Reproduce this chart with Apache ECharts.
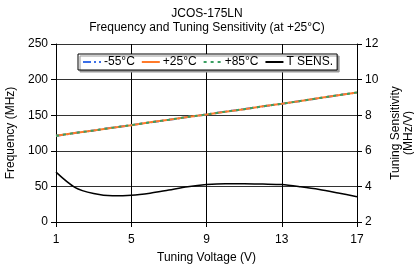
<!DOCTYPE html>
<html><head><meta charset="utf-8">
<script src="https://cdn.jsdelivr.net/npm/echarts@6/dist/echarts.min.js"></script>
<style>html,body{margin:0;padding:0;background:#fff}#c{width:414px;height:273px}</style>
</head><body><div id="c"></div>
<script>
const voltages = [1,2,3,4,5,6,7,8,9,10,11,12,13,14,15,16,17];
const freqM55 = [121,125,128.5,132.5,136,140,143.5,147.5,151,155,158.5,162.5,166,170,174,178,182];
const freq25  = [121,125,128.5,132.5,136,140,143.5,147.5,151,155,158.5,162.5,166,170,174,178,182];
const freq85  = [121,125,128.5,132.5,136,140,143.5,147.5,151,155,158.5,162.5,166,170,174,178,182];
const tSens   = [4.8,3.95,3.6,3.47,3.5,3.62,3.8,3.98,4.1,4.15,4.15,4.13,4.1,3.98,3.83,3.63,3.42];

const font = 'Liberation Sans';
const chart = echarts.init(document.getElementById('c'), null, {renderer:'canvas'});
chart.setOption({
  animation:false,
  backgroundColor:'#fff',
  textStyle:{fontFamily:font},
  title:{text:'JCOS-175LN\nFrequency and Tuning Sensitivity (at +25°C)', left:'center', top:2,
    textStyle:{fontFamily:font,fontSize:12,fontWeight:'normal',color:'#000',lineHeight:14}},
  legend:{top:54, left:78, itemGap:6, itemWidth:18, itemHeight:10, padding:[2,4,2,4],
    backgroundColor:'#fff', borderColor:'#000', borderWidth:1,
    shadowColor:'#999', shadowOffsetX:2, shadowOffsetY:2, shadowBlur:0,
    itemStyle:{opacity:0},
    textStyle:{fontFamily:font,fontSize:12,color:'#000',padding:[0,0,0,-2]},
    data:['-55°C','+25°C','+85°C','T SENS.']},
  grid:{left:56, right:57, top:44, bottom:51, containLabel:false, outerBoundsMode:'none'},
  xAxis:{type:'category', data:voltages, boundaryGap:false,
    name:'Tuning Voltage (V)', nameLocation:'middle', nameGap:30,
    nameTextStyle:{fontFamily:font,fontSize:12,color:'#000'},
    axisLine:{lineStyle:{color:'#000'}},
    axisTick:{interval:3, length:5, lineStyle:{color:'#000'}},
    axisLabel:{interval:3, color:'#000', fontFamily:font, fontSize:12, margin:12},
    splitLine:{show:true, interval:3, lineStyle:{color:'#000'}}},
  yAxis:[
    {type:'value', min:0, max:250, interval:50,
     name:'Frequency (MHz)', nameLocation:'middle', nameGap:31, nameRotate:90,
     nameTextStyle:{fontFamily:font,fontSize:12,color:'#000'},
     axisLine:{show:true,lineStyle:{color:'#000'}},
     axisTick:{show:true,length:5,lineStyle:{color:'#000'}},
     axisLabel:{color:'#000',fontFamily:font,fontSize:12,margin:8},
     splitLine:{show:true,lineStyle:{color:'#333'}}},
    {type:'value', min:2, max:12, interval:2, position:'right',
     name:'Tuning Sensitivity\n(MHz/V)', nameLocation:'middle', nameGap:27, nameRotate:90,
     nameTextStyle:{fontFamily:font,fontSize:12,color:'#000',lineHeight:13},
     axisLine:{show:true,lineStyle:{color:'#000'}},
     axisTick:{show:true,length:5,lineStyle:{color:'#000'}},
     axisLabel:{color:'#000',fontFamily:font,fontSize:12,margin:8},
     splitLine:{show:false}}
  ],
  series:[
    {name:'-55°C', type:'line', data:freqM55, symbol:'none', yAxisIndex:0,
     lineStyle:{color:'#3b6fe8', width:2, type:[8,3,2,3]}, itemStyle:{color:'#3b6fe8'}},
    {name:'+25°C', type:'line', data:freq25, symbol:'none', yAxisIndex:0,
     lineStyle:{color:'#ff7a2a', width:2}, itemStyle:{color:'#ff7a2a'}},
    {name:'+85°C', type:'line', data:freq85, symbol:'none', yAxisIndex:0,
     lineStyle:{color:'#3a9f62', width:2, type:[3,4]}, itemStyle:{color:'#3a9f62'}},
    {name:'T SENS.', type:'line', data:tSens, symbol:'none', yAxisIndex:1, smooth:0.3,
     lineStyle:{color:'#000', width:1.5}, itemStyle:{color:'#000'}}
  ]
});
</script></body></html>
